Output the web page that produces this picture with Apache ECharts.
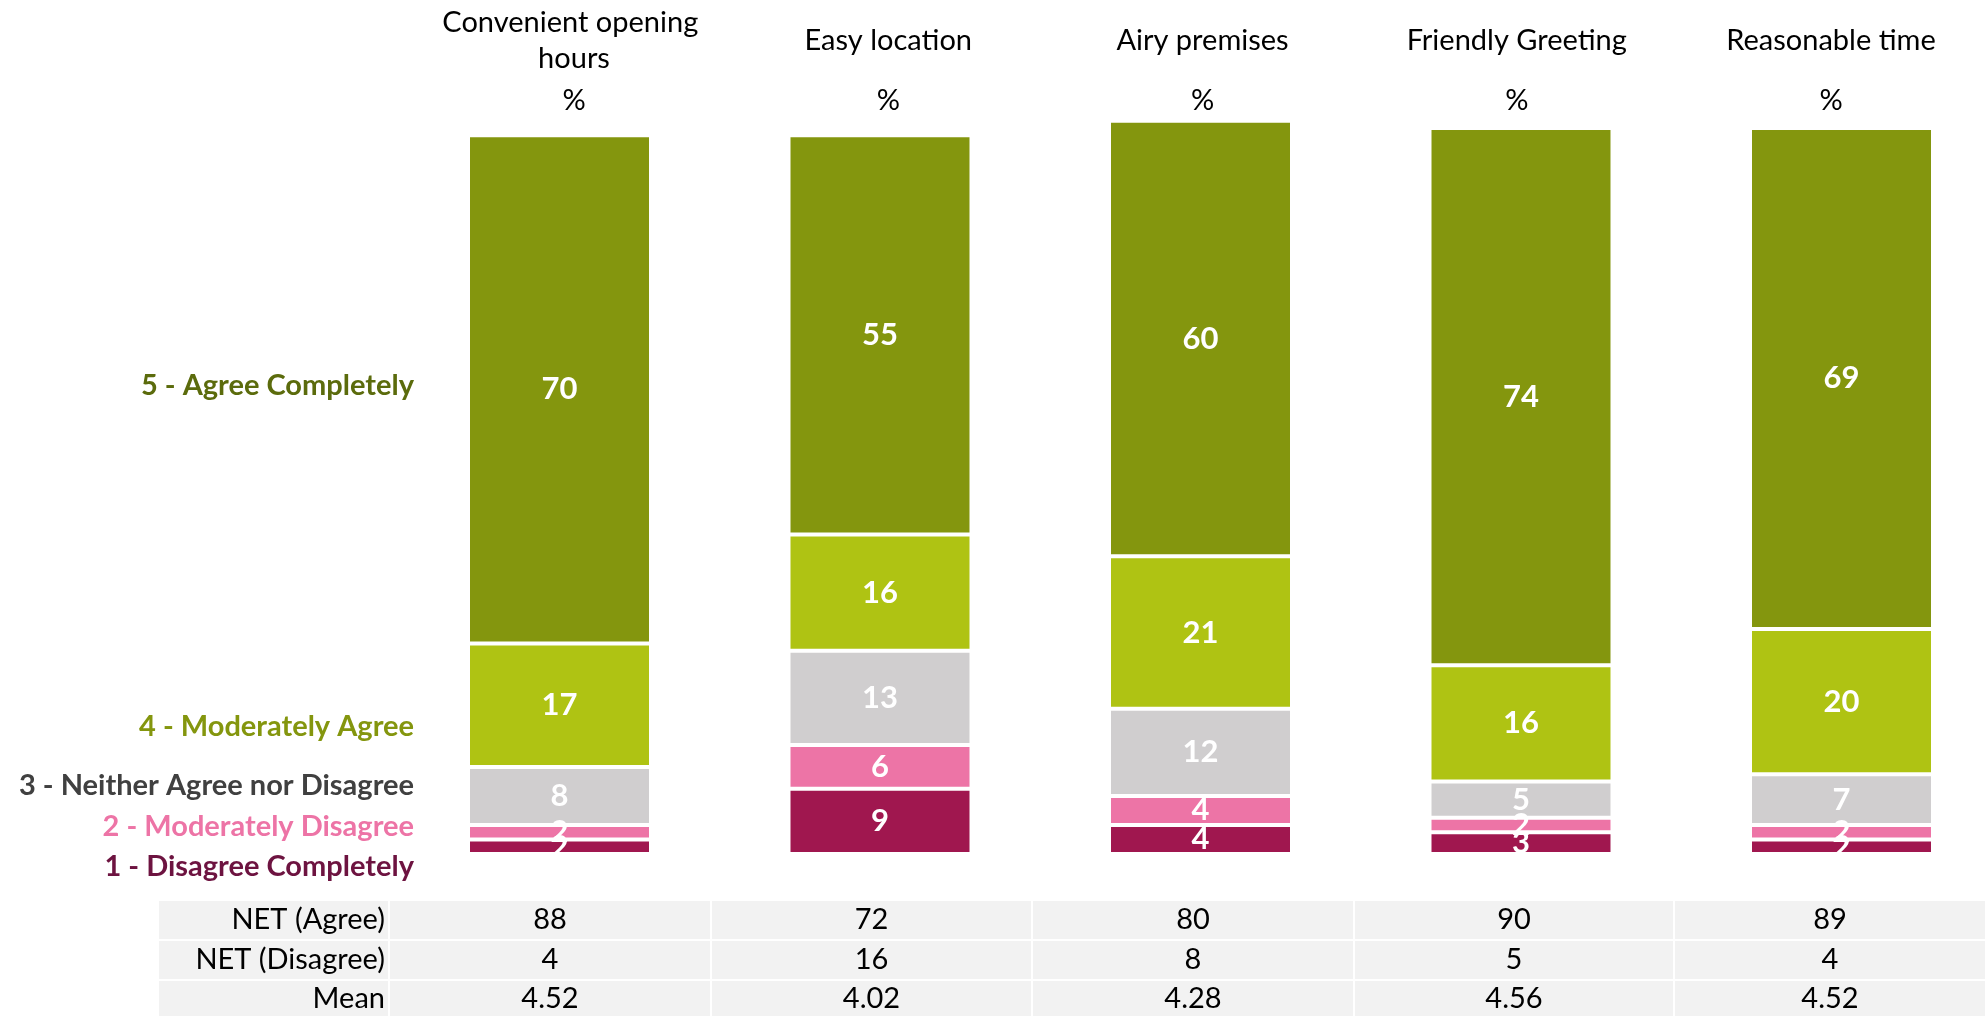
<!DOCTYPE html>
<html>
<head>
<meta charset="utf-8">
<title>Agreement ratings</title>
<script src="https://cdn.jsdelivr.net/npm/echarts@6/dist/echarts.min.js"></script>
<style>
  html, body { margin: 0; padding: 0; background: #ffffff; }
  #chart { width: 1985px; height: 1016px; }
</style>
</head>
<body>
<div id="chart"></div>
<script>
// Statements rated on a 5-point agreement scale (values in %)
const categories = ['Convenient opening hours', 'Easy location', 'Airy premises', 'Friendly Greeting', 'Reasonable time'];
const agreeCompletely    = [70, 55, 60, 74, 69];
const moderatelyAgree    = [17, 16, 21, 16, 20];
const neitherAgree       = [8, 13, 12, 5, 7];
const moderatelyDisagree = [2, 6, 4, 2, 2];
const disagreeCompletely = [2, 9, 4, 3, 2];

// Summary table under the bars
const rowLabels   = ['NET (Agree)', 'NET (Disagree)', 'Mean'];
const netAgree    = [88, 72, 80, 90, 89];
const netDisagree = [4, 16, 8, 5, 4];
const meanScores  = ['4.52', '4.02', '4.28', '4.56', '4.52'];

const levelNames = ['5 - Agree Completely', '4 - Moderately Agree', '3 - Neither Agree nor Disagree', '2 - Moderately Disagree', '1 - Disagree Completely'];

const FONT = 'Lato, "Open Sans", sans-serif';
const FS = 29;

const barColors = {
  c5: '#84960e',
  c4: '#afc313',
  c3: '#d0cecf',
  c2: '#ed74a6',
  c1: '#a0174f'
};
const levelTextColors = ['#5b6b0c', '#84960e', '#404040', '#ed74a6', '#6d1340'];
const levelTextY = [386, 727, 786, 827, 867];

function barSeries(name, values, color) {
  return {
    name: name,
    type: 'bar',
    stack: 'total',
    xAxisIndex: 0,
    yAxisIndex: 0,
    barWidth: 183,
    clip: false,
    data: values,
    itemStyle: { color: color, borderColor: '#ffffff', borderWidth: 2 },
    label: {
      show: true,
      position: 'inside',
      color: '#ffffff',
      fontFamily: FONT,
      fontWeight: 'bold',
      fontSize: 31
    }
  };
}

// Left-hand scale labels
const levelGraphics = levelNames.map((t, i) => ({
  type: 'text',
  x: 414,
  y: levelTextY[i],
  style: {
    text: t,
    fill: levelTextColors[i],
    font: 'bold ' + FS + 'px ' + FONT,
    align: 'right',
    verticalAlign: 'middle'
  }
}));

// Table rows: label column plus one cell per statement
const tableRows = [netAgree.map(String), netDisagree.map(String), meanScores];
const rowTops = [901, 941, 981];
const rowHeights = [38, 38, 36];
const colEdges = [388, 710, 1031, 1353, 1673, 1985];
const tableGraphics = [];
tableRows.forEach((row, r) => {
  const y = rowTops[r];
  const h = rowHeights[r];
  tableGraphics.push({
    type: 'rect',
    shape: { x: 159, y: y, width: colEdges[0] - 159, height: h },
    style: { fill: '#f2f2f2' }
  });
  tableGraphics.push({
    type: 'text',
    x: colEdges[0] - 3,
    y: y + h / 2,
    style: { text: rowLabels[r], fill: '#000000', font: FS + 'px ' + FONT, align: 'right', verticalAlign: 'middle' }
  });
  row.forEach((v, c) => {
    const x0 = colEdges[c] + 2;
    const w = colEdges[c + 1] - x0;
    tableGraphics.push({
      type: 'rect',
      shape: { x: x0, y: y, width: w, height: h },
      style: { fill: '#f2f2f2' }
    });
    tableGraphics.push({
      type: 'text',
      x: x0 + w / 2,
      y: y + h / 2,
      style: { text: v, fill: '#000000', font: FS + 'px ' + FONT, align: 'center', verticalAlign: 'middle' }
    });
  });
});

// Category positions sit on the grid edges (boundaryGap off) so the
// first and last columns can reach the page margins.
const axisBase = {
  type: 'category',
  position: 'top',
  boundaryGap: false,
  data: categories,
  axisLine: { show: false },
  axisTick: { show: false },
  splitLine: { show: false }
};

const chart = echarts.init(document.getElementById('chart'), null, { renderer: 'canvas' });
chart.setOption({
  backgroundColor: '#ffffff',
  animation: false,
  grid: [
    // bars
    { left: 559.5, top: 128, width: 1282, height: 726 },
    // column headings, spaced slightly tighter than the bars
    { left: 574, top: 128, width: 1257, height: 726 }
  ],
  xAxis: [
    Object.assign({}, axisBase, { gridIndex: 0, axisLabel: { show: false } }),
    Object.assign({}, axisBase, {
      gridIndex: 1,
      axisLabel: {
        interval: 0,
        margin: 87,
        verticalAlign: 'middle',
        color: '#000000',
        fontFamily: FONT,
        fontSize: FS,
        lineHeight: 36,
        width: 290,
        overflow: 'break'
      }
    }),
    Object.assign({}, axisBase, {
      gridIndex: 1,
      axisLabel: {
        interval: 0,
        margin: 27,
        verticalAlign: 'middle',
        color: '#000000',
        fontFamily: FONT,
        fontSize: FS,
        formatter: () => '%'
      }
    })
  ],
  yAxis: [
    { type: 'value', gridIndex: 0, min: 0, max: 100, show: false },
    { type: 'value', gridIndex: 1, min: 0, max: 100, show: false }
  ],
  series: [
    barSeries(levelNames[4], disagreeCompletely, barColors.c1),
    barSeries(levelNames[3], moderatelyDisagree, barColors.c2),
    barSeries(levelNames[2], neitherAgree, barColors.c3),
    barSeries(levelNames[1], moderatelyAgree, barColors.c4),
    barSeries(levelNames[0], agreeCompletely, barColors.c5)
  ],
  graphic: levelGraphics.concat(tableGraphics)
});
</script>
</body>
</html>
